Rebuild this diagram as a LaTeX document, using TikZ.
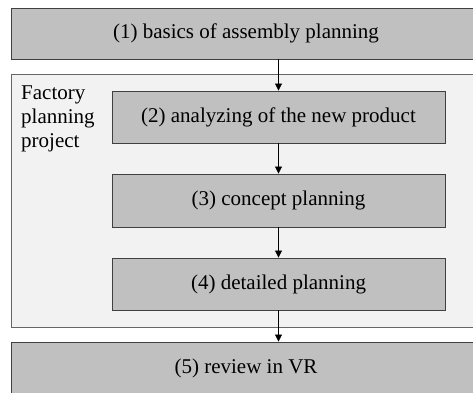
\documentclass[tikz,border=0pt]{standalone}
\usepackage{fontspec}
\setmainfont{Liberation Serif}
\usepackage{tikz}
\usetikzlibrary{arrows.meta,positioning}
\definecolor{stepgray}{RGB}{192,192,192}
\definecolor{framegray}{RGB}{242,242,242}
\definecolor{linegray}{RGB}{64,64,64}

\begin{document}
\begin{tikzpicture}[
    x=1pt, y=-1pt,
    stage/.style={rectangle, draw=linegray, fill=stepgray, line width=0.9pt, font=\fontsize{21}{24}\selectfont, inner sep=0pt},
    flow/.style={-{Triangle[length=7pt,width=7pt]}, line width=0.8pt, black}
]
\useasboundingbox (0,0) rectangle (473,392);
\clip (0,0) rectangle (473,392);

% project frame
\node[draw=black!60, fill=framegray, line width=0.9pt, minimum width=470pt, minimum height=253pt, inner sep=0pt] (frame) at (246,200.5) {};
\node[anchor=north west, align=left, inner sep=0pt, font=\fontsize{21}{24}\selectfont] (framelabel) at (21,86) {Factory\\planning\\project};

% stages
\node[stage, minimum width=470pt, minimum height=51pt] (basics) at (246,33.5) {(1) basics of assembly planning};
\node[stage, minimum width=333pt, minimum height=52pt] (analyze) at (278.5,117) {(2) analyzing of the new product};
\node[stage, minimum width=333pt, minimum height=53pt] (concept) at (278.5,200.5) {(3) concept planning};
\node[stage, minimum width=333pt, minimum height=52pt] (detail) at (278.5,284) {(4) detailed planning};
\node[stage, minimum width=470pt, minimum height=52pt] (review) at (246,368) {(5) review in VR};

\draw[flow] (basics.south -| analyze.north) -- (analyze.north);
\draw[flow] (analyze) -- (concept);
\draw[flow] (concept) -- (detail);
\draw[flow] (detail.south) -- (detail.south |- review.north);
\end{tikzpicture}
\end{document}
